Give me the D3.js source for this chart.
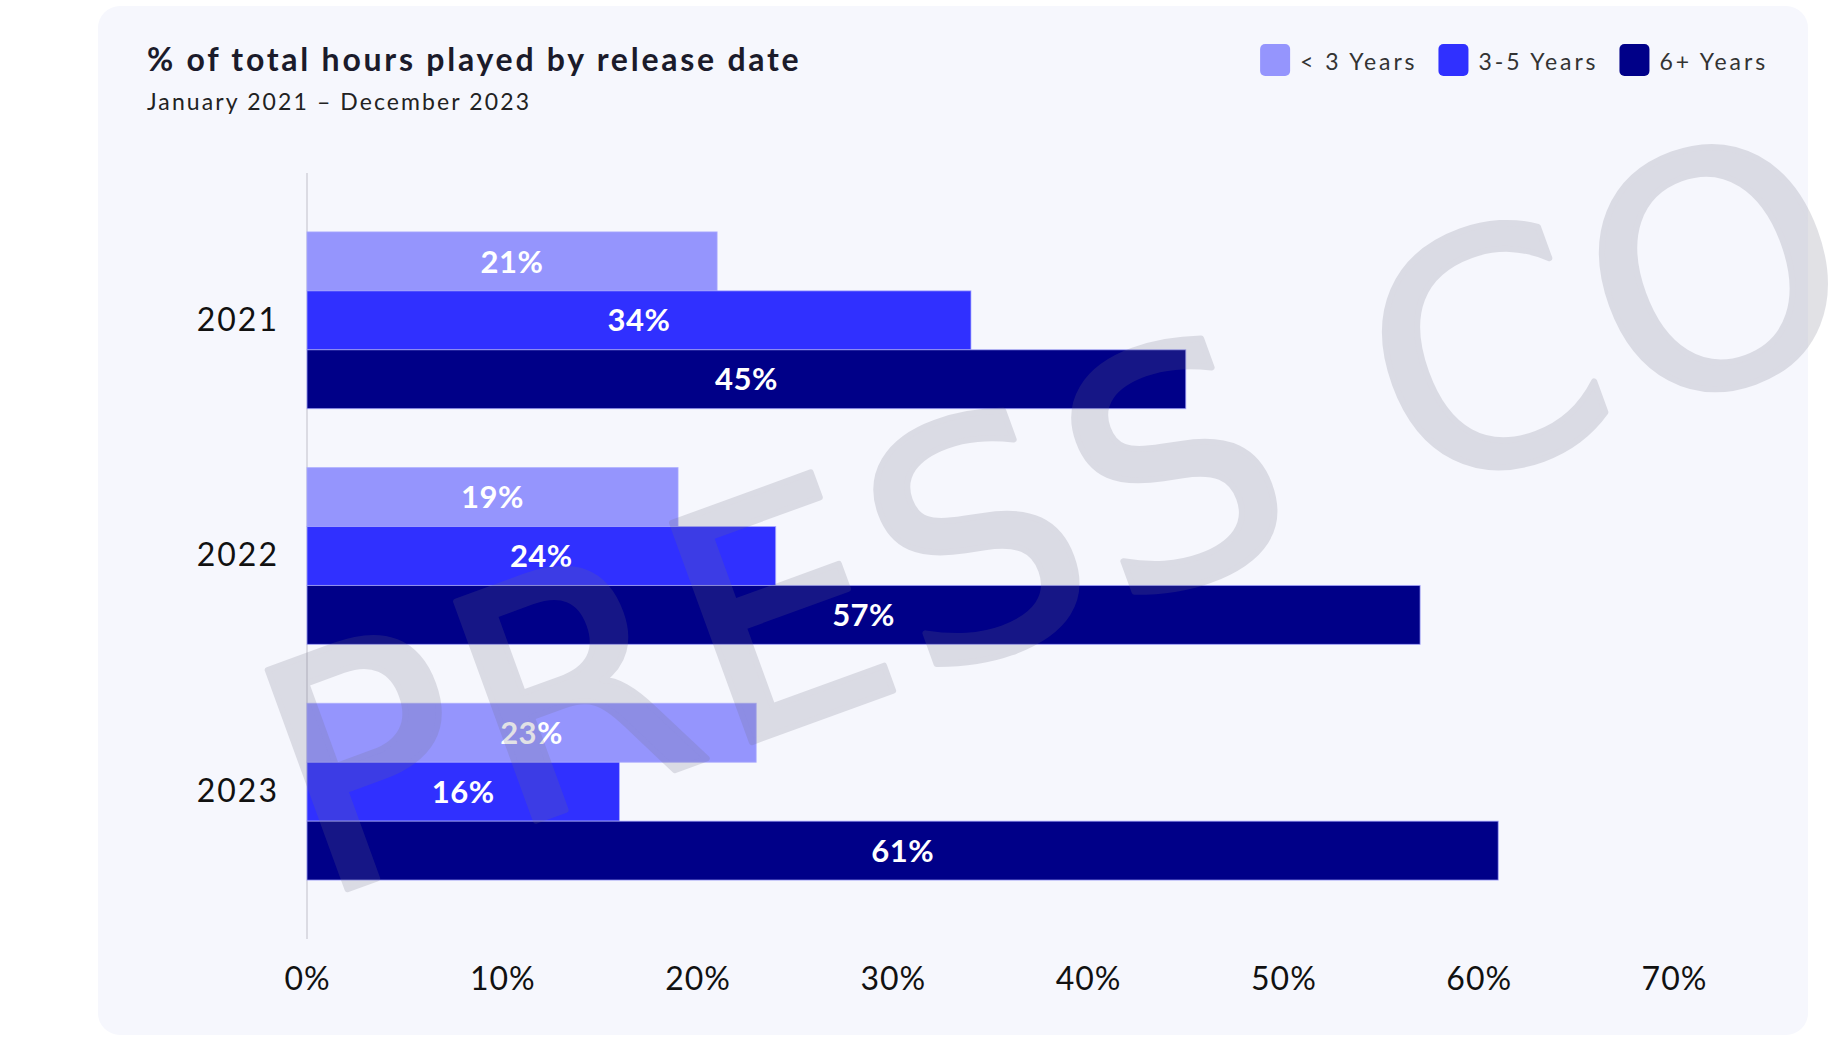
<!DOCTYPE html>
<html>
<head>
<meta charset="utf-8">
<script src="https://cdn.jsdelivr.net/npm/d3@7/dist/d3.min.js"></script>
<style>
  html, body { margin: 0; padding: 0; background: #ffffff; }
  svg { display: block; }
</style>
</head>
<body>
<svg id="chart" width="1846" height="1038"></svg>
<script>
// ---- data ----
const years = ["2021", "2022", "2023"];
const seriesNames = ["< 3 Years", "3-5 Years", "6+ Years"];
const lessThan3 = [21, 19, 23];
const threeToFive = [34, 24, 16];
const sixPlus = [45, 57, 61];
const xTicks = [0, 10, 20, 30, 40, 50, 60, 70];
const seriesColors = ["#9595fd", "#3030ff", "#000088"];
const titleText = "% of total hours played by release date";
const subtitleText = "January 2021 – December 2023";
const watermarkText = "PRESS CO";

const seriesValues = [lessThan3, threeToFive, sixPlus];
const rows = years.map((y, i) => ({
  year: y,
  values: seriesNames.map((s, j) => ({ key: s, value: seriesValues[j][i], color: seriesColors[j] }))
}));

const FONT = "Lato, 'Open Sans', sans-serif";
const svg = d3.select("#chart");

// card
svg.append("rect")
  .attr("x", 98).attr("y", 6)
  .attr("width", 1710).attr("height", 1029)
  .attr("rx", 22).attr("ry", 22)
  .attr("fill", "#f6f7fd");

// title
svg.append("text")
  .attr("x", 147).attr("y", 71)
  .attr("font-family", FONT).attr("font-size", 32).attr("font-weight", 700)
  .attr("letter-spacing", 2.75)
  .attr("fill", "#1b1b2b")
  .text(titleText);
svg.append("text")
  .attr("x", 147).attr("y", 110)
  .attr("font-family", FONT).attr("font-size", 23).attr("font-weight", 400)
  .attr("letter-spacing", 2.1)
  .attr("fill", "#222")
  .text(subtitleText);

// scales
const x = d3.scaleLinear().domain([0, 70]).range([307, 1674]);
const y = d3.scaleBand().domain(years).range([173, 939]).paddingInner(0.25).paddingOuter(0.25);
const ys = d3.scaleBand().domain(seriesNames).range([0, y.bandwidth()]).padding(0);

// axis line (vertical)
svg.append("line")
  .attr("x1", x(0)).attr("x2", x(0))
  .attr("y1", 173).attr("y2", 939)
  .attr("stroke", "#d2d2da").attr("stroke-width", 1.5);

// bars
const g = svg.append("g");
const groups = g.selectAll("g.year").data(rows).join("g")
  .attr("class", "year")
  .attr("transform", d => `translate(0,${y(d.year)})`);

groups.selectAll("rect").data(d => d.values).join("rect")
  .attr("x", x(0))
  .attr("y", d => ys(d.key))
  .attr("width", d => x(d.value) - x(0))
  .attr("height", ys.bandwidth())
  .attr("fill", d => d.color)
  .attr("stroke", "rgba(170,170,255,0.75)")
  .attr("stroke-width", 1);

groups.selectAll("text").data(d => d.values).join("text")
  .attr("x", d => (x(d.value) + x(0)) / 2)
  .attr("y", d => ys(d.key) + ys.bandwidth() / 2)
  .attr("dy", "0.36em")
  .attr("text-anchor", "middle")
  .attr("font-family", FONT).attr("font-size", 31).attr("font-weight", 700)
  .attr("letter-spacing", 0.5)
  .attr("fill", "#ffffff")
  .text(d => d.value + "%");

// y axis (years)
const yAxis = svg.append("g")
  .attr("transform", `translate(${x(0)},0)`)
  .call(d3.axisLeft(y).tickSize(0).tickPadding(28));
yAxis.select(".domain").remove();
yAxis.selectAll("text")
  .attr("font-family", FONT).attr("font-size", 32).attr("font-weight", 400)
  .attr("letter-spacing", 2)
  .attr("fill", "#111");

// x axis (ticks)
const xAxis = svg.append("g")
  .attr("transform", `translate(0,966)`)
  .call(d3.axisBottom(x).tickValues(xTicks).tickSize(0).tickPadding(0).tickFormat(d => d + "%"));
xAxis.select(".domain").remove();
xAxis.selectAll("text")
  .attr("y", 24).attr("dy", 0)
  .attr("font-family", FONT).attr("font-size", 32).attr("font-weight", 400)
  .attr("letter-spacing", 1)
  .attr("fill", "#111");

// legend
const legend = svg.append("g");
const items = legend.selectAll("g").data(seriesNames).join("g");
items.append("rect")
  .attr("width", 30).attr("height", 32).attr("rx", 5).attr("ry", 5)
  .attr("y", 44)
  .attr("fill", (d, i) => seriesColors[i]);
items.append("text")
  .attr("x", 40).attr("y", 70)
  .attr("font-family", FONT).attr("font-size", 23).attr("font-weight", 400)
  .attr("letter-spacing", 2.9)
  .attr("fill", "#333")
  .text(d => d);
// layout legend right-aligned
const widths = [];
items.each(function () { widths.push(40 + this.querySelector("text").getComputedTextLength()); });
const gap = 21;
const total = d3.sum(widths) + gap * (widths.length - 1);
let cx = 1768 - total;
items.each(function (d, i) {
  d3.select(this).attr("transform", `translate(${cx},0)`);
  cx += widths[i] + gap;
});

// watermark
svg.append("g")
  .attr("opacity", 0.2)
  .append("text")
  .attr("transform", "translate(318,900) rotate(-20)")
  .attr("font-family", "'DejaVu Sans', sans-serif")
  .attr("font-size", 320)
  .attr("letter-spacing", 7.5)
  .attr("fill", "#6e6e82")
  .attr("stroke", "#6e6e82")
  .attr("stroke-width", 6)
  .attr("stroke-linejoin", "round")
  .text(watermarkText);
</script>
</body>
</html>
